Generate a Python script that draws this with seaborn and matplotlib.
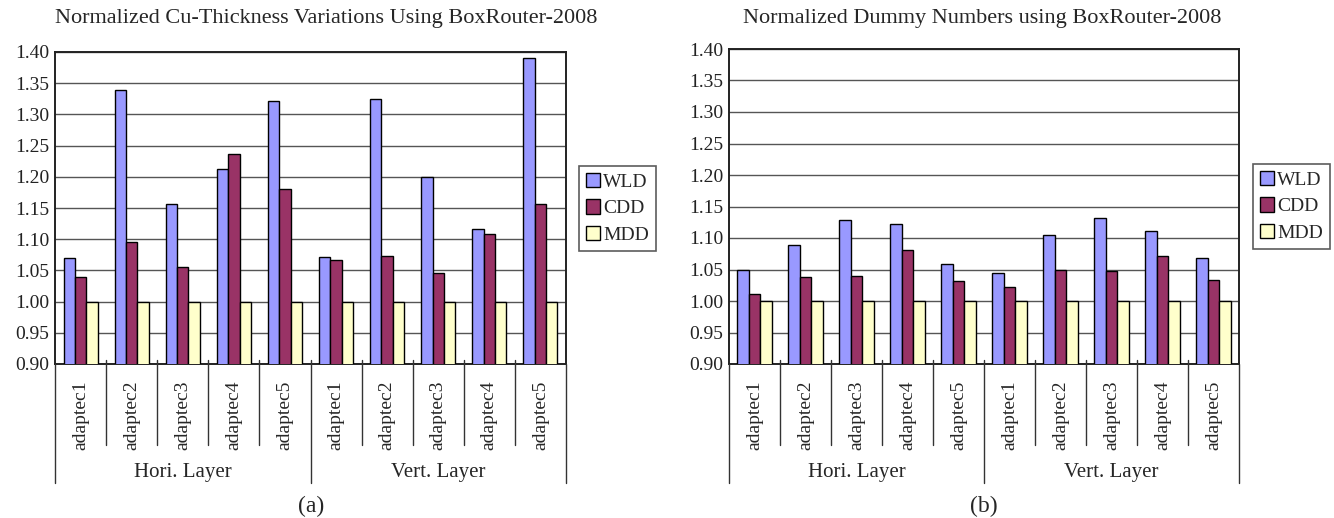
import numpy as np
import pandas as pd
import matplotlib
matplotlib.use("Agg")
import matplotlib.pyplot as plt
import matplotlib.transforms as mtransforms
from matplotlib.patches import Patch
import seaborn as sns

# ---- data ----
benchmarks = ["adaptec1", "adaptec2", "adaptec3", "adaptec4", "adaptec5"]
groups = ["Hori. Layer", "Vert. Layer"]
series = ["WLD", "CDD", "MDD"]

# (a) normalized Cu-thickness variations (Hori. adaptec1..5, Vert. adaptec1..5)
cu_wld = [1.070, 1.339, 1.157, 1.212, 1.322, 1.071, 1.324, 1.199, 1.116, 1.390]
cu_cdd = [1.040, 1.095, 1.055, 1.237, 1.180, 1.066, 1.073, 1.046, 1.108, 1.156]
cu_mdd = [1.000, 1.000, 1.000, 1.000, 1.000, 1.000, 1.000, 1.000, 1.000, 1.000]

# (b) normalized dummy numbers
dm_wld = [1.049, 1.089, 1.129, 1.122, 1.059, 1.045, 1.104, 1.132, 1.111, 1.069]
dm_cdd = [1.011, 1.038, 1.039, 1.081, 1.031, 1.023, 1.049, 1.048, 1.071, 1.033]
dm_mdd = [1.000, 1.000, 1.000, 1.000, 1.000, 1.000, 1.000, 1.000, 1.000, 1.000]

titles = ["Normalized Cu-Thickness Variations Using BoxRouter-2008",
          "Normalized Dummy Numbers using BoxRouter-2008"]
panel_tags = ["(a)", "(b)"]
yticks = [0.90, 0.95, 1.00, 1.05, 1.10, 1.15, 1.20, 1.25, 1.30, 1.35, 1.40]

colors = {"WLD": "#9999FF", "CDD": "#993366", "MDD": "#FFFFCC"}

sns.set_theme(style="white")
plt.rcParams["font.family"] = ["Liberation Serif", "DejaVu Serif"]


def build_frame(wld, cdd, mdd):
    keys = [f"{g}|{b}" for g in groups for b in benchmarks]
    rows = []
    for name, vals in zip(series, [wld, cdd, mdd]):
        for k, v in zip(keys, vals):
            rows.append({"key": k, "series": name, "value": v})
    return pd.DataFrame(rows), keys


fig = plt.figure(figsize=(13.34, 5.18), dpi=100)
W, H = 1334.0, 518.0
ax_boxes = [
    (55, 52, 566, 364),   # left, top, right, bottom in pixels
    (729, 49, 1239, 364),
]
legend_boxes = [(579, 166), (1253, 164)]
title_centers = [(326, 18), (982, 18)]
tag_centers = [(311, 506), (984, 506)]

datasets = [(cu_wld, cu_cdd, cu_mdd), (dm_wld, dm_cdd, dm_mdd)]

for i, (l, t, r, b) in enumerate(ax_boxes):
    ax = fig.add_axes([l / W, 1 - b / H, (r - l) / W, (b - t) / H])
    df, keys = build_frame(*datasets[i])
    sns.barplot(data=df, x="key", y="value", hue="series", order=keys,
                hue_order=series, palette=colors, width=0.667,
                edgecolor="black", linewidth=1.0, saturation=1.0,
                legend=False, ax=ax, zorder=3)
    ax.set_ylim(0.90, 1.40)
    ax.set_xlim(-0.5, 9.5)
    ax.set_yticks(yticks)
    ax.set_yticklabels([f"{v:.2f}" for v in yticks], fontsize=14)
    ax.yaxis.grid(True, color="#555555", linewidth=1.0, zorder=0)
    ax.set_axisbelow(True)
    ax.set_xlabel("")
    ax.set_ylabel("")
    for sp in ax.spines.values():
        sp.set_color("#222222")
        sp.set_linewidth(1.4)
    ax.tick_params(axis="y", length=0, pad=4, colors="#222222")
    ax.tick_params(axis="x", length=0, pad=12)
    ax.set_xticks(range(len(keys)))
    ax.set_xticklabels([k.split("|")[1] for k in keys], rotation=90,
                       fontsize=14, va="top", ha="center")

    # category separators below the axis
    trans = mtransforms.blended_transform_factory(ax.transData, ax.transAxes)
    ph = (b - t)
    inner_end = -(445 - b) / ph
    outer_end = -(483 - b) / ph
    for x in np.arange(-0.5, 10.0, 1.0):
        end = outer_end if x in (-0.5, 4.5, 9.5) else inner_end
        ax.plot([x, x], [0.012 if x not in (-0.5, 9.5) else 0, end],
                transform=trans, color="#333333", linewidth=1.0,
                clip_on=False, zorder=4)
    for gi, g in enumerate(groups):
        ax.text(gi * 5 + 2, -(472 - b) / ph, g, transform=trans,
                ha="center", va="center", fontsize=15)

    # legend
    handles = [Patch(facecolor=colors[s], edgecolor="black", linewidth=1.0,
                     label=s) for s in series]
    lx, ly = legend_boxes[i]
    leg = fig.legend(handles=handles, loc="upper left",
                     bbox_to_anchor=(lx / W, 1 - ly / H), fontsize=14,
                     frameon=True, fancybox=False, handlelength=0.75,
                     handleheight=0.75, handletextpad=0.15,
                     labelspacing=0.45, borderpad=0.35, borderaxespad=0)
    leg.get_frame().set_edgecolor("#333333")
    leg.get_frame().set_linewidth(1.2)

    tx, ty = title_centers[i]
    fig.text(tx / W, 1 - ty / H, titles[i], ha="center", va="center",
             fontsize=16)
    gx, gy = tag_centers[i]
    fig.text(gx / W, 1 - gy / H, panel_tags[i], ha="center", va="center",
             fontsize=17)

fig.savefig("out.png", dpi=100, facecolor="white")
